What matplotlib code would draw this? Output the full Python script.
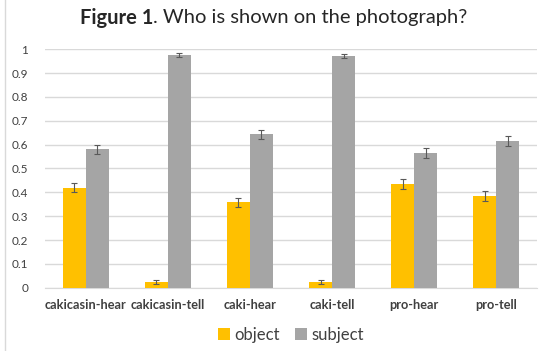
import matplotlib
matplotlib.use("Agg")
import matplotlib.pyplot as plt
import numpy as np

plt.rcParams['font.family'] = ['Lato', 'DejaVu Sans']

conditions = ['cakicasin-hear', 'cakicasin-tell', 'caki-hear', 'caki-tell', 'pro-hear', 'pro-tell']
obj = [0.42, 0.025, 0.358, 0.025, 0.435, 0.385]
subj = [0.58, 0.975, 0.643, 0.972, 0.565, 0.615]
obj_err = [0.02, 0.008, 0.018, 0.008, 0.02, 0.02]
subj_err = [0.02, 0.008, 0.018, 0.008, 0.02, 0.02]

fig = plt.figure(figsize=(5.47, 3.51), dpi=100)
ax = fig.add_axes([0.082, 0.18, 0.9, 0.68])

x = np.arange(len(conditions))
w = 0.28
err_kw = dict(ecolor='#595959', elinewidth=0.8, capsize=2, capthick=0.8)
ax.bar(x - w / 2, obj, w, yerr=obj_err, color='#FFC000', label='object',
       error_kw=err_kw, zorder=3)
ax.bar(x + w / 2, subj, w, yerr=subj_err, color='#A5A5A5', label='subject',
       error_kw=err_kw, zorder=3)

ax.set_xlim(-0.5, len(conditions) - 0.5)
ax.set_ylim(0, 1)
ax.set_yticks(np.arange(0, 1.01, 0.1))
ax.set_yticklabels(['0', '0.1', '0.2', '0.3', '0.4', '0.5', '0.6', '0.7', '0.8', '0.9', '1'])
ax.set_xticks(x)
ax.set_xticklabels(conditions, fontweight='bold', fontsize=9.2)
ax.tick_params(axis='both', length=0, colors='#404040')
ax.tick_params(axis='y', pad=12, labelsize=8.5)
ax.tick_params(axis='x', pad=8)
ax.yaxis.grid(True, color='#d9d9d9', linewidth=1, zorder=0)
for s in ['top', 'right', 'left']:
    ax.spines[s].set_visible(False)
ax.spines['bottom'].set_color('#d9d9d9')

ax.legend(loc='upper center', bbox_to_anchor=(0.5, -0.10), ncol=2, frameon=False,
          fontsize=12, handlelength=0.7, handleheight=0.7, handletextpad=0.3,
          columnspacing=0.9, labelcolor='#404040')

# title: bold label followed by regular text
fig.canvas.draw()
r = fig.canvas.get_renderer()
t1 = fig.text(0, 0.95, 'Figure 1', fontsize=14.5, fontweight='bold', va='center', color='#262626')
t2 = fig.text(0, 0.95, '. Who is shown on the photograph?', fontsize=14.5, va='center', color='#262626')
w1 = t1.get_window_extent(r).width
w2 = t2.get_window_extent(r).width
start = 0.5 * 547 - (w1 + w2) / 2
t1.set_x(start / 547)
t2.set_x((start + w1) / 547)

# chart-area border on the left edge
fig.add_artist(plt.Line2D([5 / 547, 5 / 547], [0, 1], color='#d9d9d9', linewidth=1))

fig.savefig('out.png', dpi=100)
